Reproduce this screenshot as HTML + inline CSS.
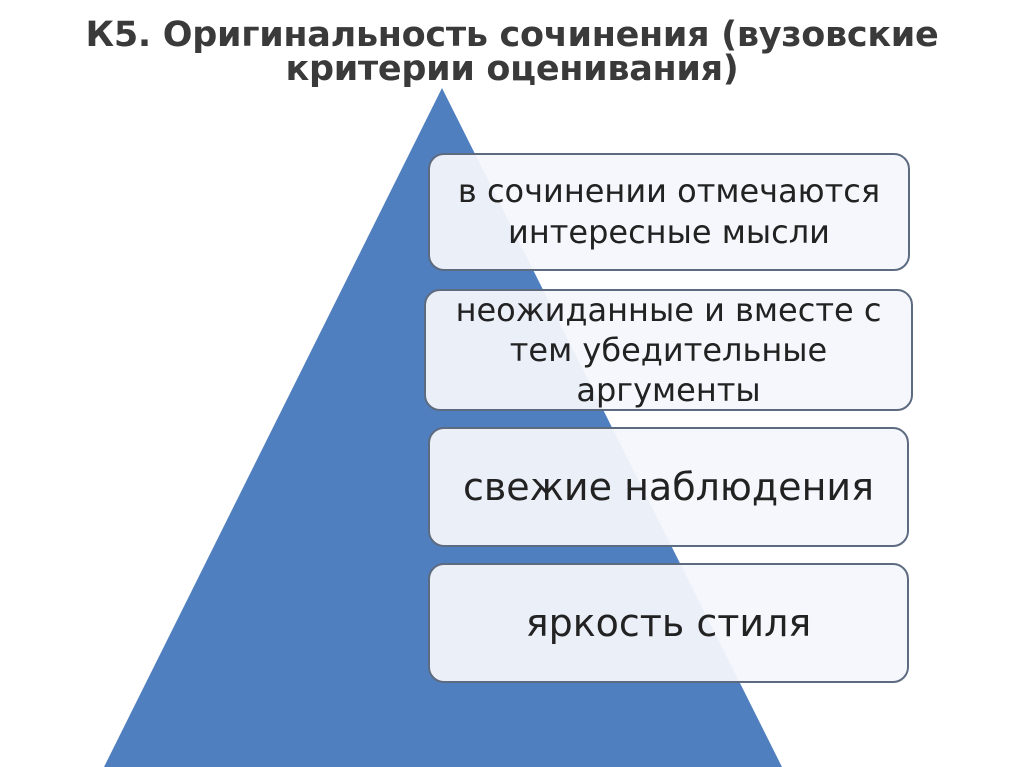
<!DOCTYPE html>
<html><head><meta charset="utf-8"><style>
body{margin:0;width:1024px;height:767px;background:#fff;overflow:hidden;position:relative;font-family:"Liberation Sans","DejaVu Sans",sans-serif}
.t{position:absolute;left:0;width:1024px;text-align:center;font-weight:bold;font-size:35px;color:#3a3a3a;line-height:34px;top:18px;font-family:"DejaVu Sans","Liberation Sans",sans-serif;letter-spacing:-0.3px}
.b{position:absolute;border:2.5px solid #5d6b80;border-radius:16px;background:rgba(244,246,252,0.94);display:flex;align-items:center;justify-content:center;text-align:center;font-size:32px;line-height:41px;color:#222;box-sizing:border-box;font-family:"DejaVu Sans","Liberation Sans",sans-serif}
</style></head><body>
<div class="t">К5. Оригинальность сочинения (вузовские<br>критерии оценивания)</div>
<svg style="position:absolute;left:0;top:0" width="1024" height="767"><polygon points="442,88 104,767 782,767" fill="#4f7fbf"/></svg>
<div class="b" style="left:428px;top:153px;width:482px;height:118px">в сочинении отмечаются<br>интересные мысли</div>
<div class="b" style="left:424px;top:289px;width:489px;height:122px;line-height:40px">неожиданные и вместе с<br>тем убедительные<br>аргументы</div>
<div class="b" style="left:428px;top:427px;width:481px;height:120px;font-size:38px">свежие наблюдения</div>
<div class="b" style="left:428px;top:563px;width:481px;height:120px;font-size:38px">яркость стиля</div>
</body></html>
